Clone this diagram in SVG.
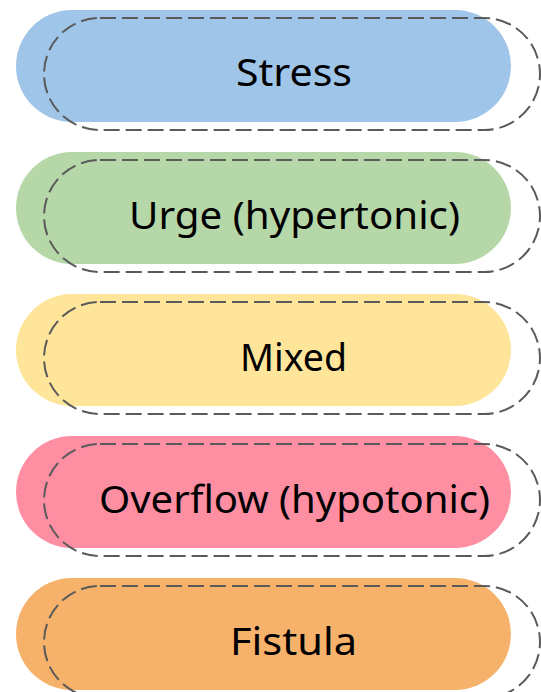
<svg xmlns="http://www.w3.org/2000/svg" width="541" height="692" viewBox="0 0 541 692">
<style>
.pill{stroke:none}
.dash{fill:none;stroke:#5a5a5a;stroke-width:2;stroke-dasharray:16 6}
.lbl{font-family:"Noto Sans","Open Sans","DejaVu Sans",sans-serif;font-size:38px;fill:#000;text-anchor:middle}
</style>
<rect width="541" height="692" fill="#ffffff"/>
<g id="stress">
<rect class="pill" x="16" y="10" width="495" height="112" rx="56" fill="#9fc5e8"/>
<rect class="dash" x="44" y="18" width="496" height="112" rx="56"/>
<text class="lbl" x="294" y="86" textLength="116" lengthAdjust="spacingAndGlyphs">Stress</text>
</g>
<g id="urge">
<rect class="pill" x="16" y="152" width="495" height="112" rx="56" fill="#b6d7a8"/>
<rect class="dash" x="44" y="160" width="496" height="112" rx="56"/>
<text class="lbl" x="294.5" y="228.5" textLength="331" lengthAdjust="spacingAndGlyphs">Urge (hypertonic)</text>
</g>
<g id="mixed">
<rect class="pill" x="16" y="294" width="495" height="112" rx="56" fill="#ffe599"/>
<rect class="dash" x="44" y="302" width="496" height="112" rx="56"/>
<text class="lbl" x="293.5" y="370.5" textLength="107" lengthAdjust="spacingAndGlyphs">Mixed</text>
</g>
<g id="overflow">
<rect class="pill" x="16" y="436" width="495" height="112" rx="56" fill="#fe8fa2"/>
<rect class="dash" x="44" y="444" width="496" height="112" rx="56"/>
<text class="lbl" x="294.5" y="512.5" textLength="391" lengthAdjust="spacingAndGlyphs">Overflow (hypotonic)</text>
</g>
<g id="fistula">
<rect class="pill" x="16" y="578" width="495" height="112" rx="56" fill="#f6b26b"/>
<rect class="dash" x="44" y="586" width="496" height="112" rx="56"/>
<text class="lbl" x="293.5" y="654.5" textLength="127" lengthAdjust="spacingAndGlyphs">Fistula</text>
</g>
<g id="connectors"></g>
</svg>
